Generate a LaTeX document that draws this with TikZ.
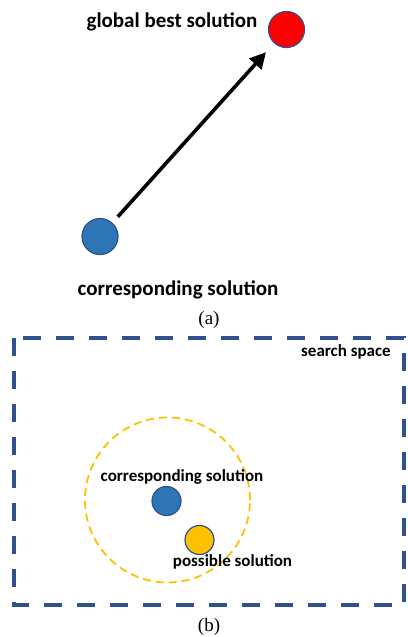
\documentclass[tikz,border=0pt]{standalone}
\usepackage{fontspec}
\setmainfont{Liberation Serif}
\newfontfamily\lblfont{Carlito}
\usetikzlibrary{arrows.meta, positioning}
\definecolor{solblue}{HTML}{2E75B6}
\definecolor{edgeblue}{HTML}{2F528F}
\definecolor{bestred}{HTML}{FF0000}
\definecolor{possyellow}{HTML}{FFC000}

\begin{document}
\begin{tikzpicture}[
    x=1pt, y=-1pt,
    sol/.style={circle, draw=edgeblue, line width=1.2pt, inner sep=0pt},
    lbl/.style={font=\lblfont\bfseries\fontsize{#1}{#1}\selectfont, inner sep=0pt, text=black},
    subcap/.style={font=\fontsize{19}{21}\selectfont, inner sep=0pt}
]
    \useasboundingbox (0,0) rectangle (407,637);
    % --- (a) move towards the global best ---
    \node[sol, fill=bestred, minimum size=36] (gbest) at (286.5,29.5) {};
    \node[lbl=21] (gbestlbl) at (172,22) {global best solution};
    \node[sol, fill=solblue, minimum size=36] (cur) at (100,236.5) {};
    \node[lbl=21] (curlbl) at (178,290) {corresponding solution};
    \draw[line width=3.6, -{Triangle[length=16, width=16]}, shorten <=8, shorten >=12] (cur) -- (gbest);
    \node[subcap] (capa) at (209,320) {(a)};
    % --- (b) search around the solution ---
    \draw[edgeblue, line width=4, dash pattern=on 18 off 15] (14,338) rectangle (404,605);
    \node[lbl=17] (spacelbl) at (346,352) {search space};
    \node[circle, draw=possyellow, line width=1.8, dash pattern=on 8 off 5, minimum size=165, inner sep=0pt] (area) at (167.5,500) {};
    \node[sol, fill=solblue, minimum size=29] (cur2) at (166.5,501) {};
    \node[lbl=17] (cur2lbl) at (182,477) {corresponding solution};
    \node[sol, fill=possyellow, minimum size=29] (poss) at (199.5,540) {};
    \node[lbl=17] (posslbl) at (232.5,562) {possible solution};
    \node[subcap] (capb) at (209,627) {(b)};
\end{tikzpicture}
\end{document}
